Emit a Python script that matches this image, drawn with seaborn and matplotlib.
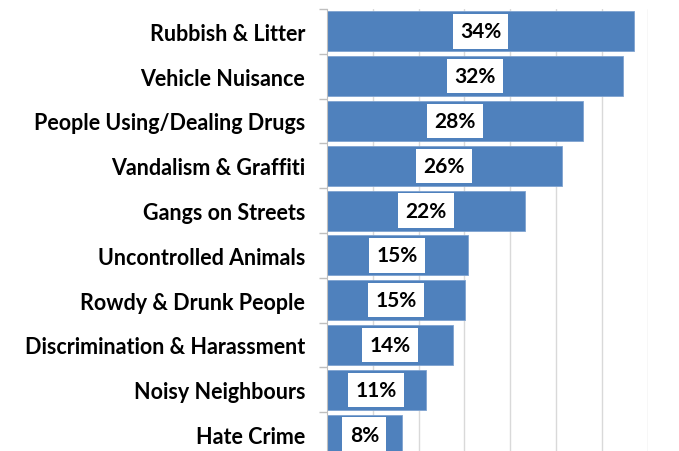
import numpy as np
import pandas as pd
import matplotlib
matplotlib.use("Agg")
import matplotlib.pyplot as plt
import seaborn as sns

# values (bar lengths, in %)
categories = [
    "Rubbish & Litter",
    "Vehicle Nuisance",
    "People Using/Dealing Drugs",
    "Vandalism & Graffiti",
    "Gangs on Streets",
    "Uncontrolled Animals",
    "Rowdy & Drunk People",
    "Discrimination & Harassment",
    "Noisy Neighbours",
    "Hate Crime",
]
values = [33.5, 32.3, 27.9, 25.6, 21.6, 15.4, 15.1, 13.8, 10.8, 8.2]
value_labels = ["34%", "32%", "28%", "26%", "22%", "15%", "15%", "14%", "11%", "8%"]

BAR_COLOR = "#4F81BD"
GRID_COLOR = "#d9d9d9"

sns.set_style("white")
plt.rcParams["font.family"] = ["Lato", "DejaVu Sans"]

df = pd.DataFrame({"category": categories, "value": values})

fig = plt.figure(figsize=(6.79, 4.52), dpi=100)
# plot area runs a little past the bottom edge, as in the reference crop
ax = fig.add_axes([326.7 / 679, -6 / 452, (648 - 326.7) / 679, 448 / 452])

sns.barplot(data=df, x="value", y="category", orient="h", color=BAR_COLOR,
            saturation=1, width=0.89, edgecolor="#7fa3d0", linewidth=0.6,
            ax=ax, zorder=2)

ax.set_xlim(0, 35)
ax.set_ylim(len(categories) - 0.5, -0.5)
ax.set_xticks(np.arange(5, 36, 5))
ax.set_xticklabels([])
ax.xaxis.grid(True, color=GRID_COLOR, linewidth=1.0, zorder=0)
ax.set_axisbelow(True)
ax.tick_params(axis="x", length=0)

ax.set_xlabel("")
ax.set_ylabel("")
ax.tick_params(axis="y", which="major", left=False, length=0, pad=15.5)
for lbl in ax.get_yticklabels():
    lbl.set_fontsize(15.5)
    lbl.set_fontweight("bold")
    lbl.set_color("black")

# little tick marks between categories
ax.set_yticks(np.arange(-0.5, len(categories), 1.0), minor=True)
ax.tick_params(axis="y", which="minor", left=True, length=6,
               color="#bfbfbf", width=1)

for side in ["top", "bottom", "right"]:
    ax.spines[side].set_visible(False)
ax.spines["left"].set_color("#bfbfbf")

for i, (v, lab) in enumerate(zip(values, value_labels)):
    ax.text(v / 2, i, lab, ha="center", va="center", fontsize=15,
            fontweight="bold", color="black", zorder=4,
            bbox=dict(boxstyle="square,pad=0.35", facecolor="white",
                      edgecolor="none"))

fig.savefig("out.png", dpi=100)
